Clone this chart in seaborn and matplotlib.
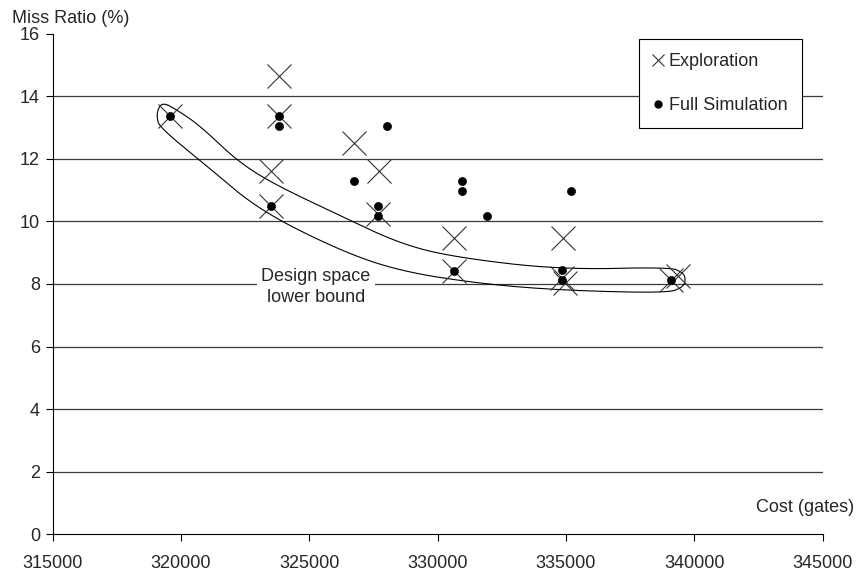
import numpy as np
import pandas as pd
import matplotlib.pyplot as plt
import seaborn as sns
from matplotlib.lines import Line2D

# exploration estimates (cost in gates, miss ratio in %)
explore_cost = [319575, 323832, 323832, 323497, 323497, 326752, 327727, 327687,
                330646, 330646, 334879, 334850, 334950, 339073, 339370]
explore_miss = [13.39, 14.64, 13.36, 11.61, 10.51, 12.50, 11.61, 10.25,
                9.47, 8.43, 9.47, 8.20, 8.02, 8.12, 8.27]

# full simulation results
sim_cost = [319575, 323832, 323832, 328014, 326741, 323497, 327687, 327687,
            330946, 330946, 335178, 331908, 330646, 334852, 334852, 339073]
sim_miss = [13.39, 13.39, 13.05, 13.05, 11.31, 10.51, 10.51, 10.19,
            11.31, 10.98, 10.98, 10.18, 8.43, 8.46, 8.12, 8.12]

# outline of the "lower bound" loop (upper edge left->right, lower edge back)
loop_cost = [319303, 319770, 320744, 322173, 323586, 326195, 328532, 330634,
             334762, 339045, 339551, 339668, 339551, 338918, 334762, 331647,
             328532, 326195, 323080, 321133, 319186, 319058, 319108]
loop_miss = [13.80, 13.61, 13.07, 11.95, 11.21, 10.19, 9.29, 8.86,
             8.46, 8.54, 8.37, 8.15, 7.89, 7.71, 7.80, 8.01,
             8.41, 9.07, 10.35, 11.69, 13.00, 13.33, 13.61]


def chaikin(xs, ys, n=3):
    # smooth a closed outline by corner cutting
    pts = np.column_stack([xs, ys]).astype(float)
    for _ in range(n):
        nxt = np.roll(pts, -1, axis=0)
        q = 0.75 * pts + 0.25 * nxt
        r = 0.25 * pts + 0.75 * nxt
        pts = np.empty((2 * len(q), 2))
        pts[0::2] = q
        pts[1::2] = r
    pts = np.vstack([pts, pts[:1]])
    return pts[:, 0], pts[:, 1]


explore = pd.DataFrame({"cost": explore_cost, "miss": explore_miss})
sim = pd.DataFrame({"cost": sim_cost, "miss": sim_miss})

sns.set_theme(style="white")
plt.rcParams["font.family"] = ["Liberation Sans", "DejaVu Sans"]

fig = plt.figure(figsize=(8.57, 5.72), dpi=100)
ax = fig.add_axes([0.0613, 0.0664, 0.8987, 0.8742])

for yv in range(2, 15, 2):
    ax.axhline(yv, color="#3a3a3a", lw=0.9, zorder=0)

lx, ly = chaikin(loop_cost, loop_miss)
ax.plot(lx, ly, color="black", lw=0.8, zorder=1)

sns.scatterplot(data=explore, x="cost", y="miss", marker="x", s=300,
                color="#333333", linewidth=0.8, ax=ax, zorder=2)
sns.scatterplot(data=sim, x="cost", y="miss", marker="o", s=34,
                color="black", edgecolor="black", ax=ax, zorder=3)

ax.set_xlim(315000, 345000)
ax.set_ylim(0, 16)
ax.set_xticks(np.arange(315000, 345001, 5000))
ax.set_yticks(np.arange(0, 17, 2))
ax.set_xlabel("")
ax.set_ylabel("")
ax.tick_params(axis="both", labelsize=13, length=5, width=0.8, color="black",
               direction="out", bottom=True, left=True, pad=10)
ax.tick_params(axis="y", pad=4)
for side in ["top", "right"]:
    ax.spines[side].set_visible(False)
for side in ["left", "bottom"]:
    ax.spines[side].set_color("black")
    ax.spines[side].set_linewidth(0.8)

fig.text(0.014, 0.968, "Miss Ratio (%)", fontsize=13, ha="left", va="center")
fig.text(0.997, 0.112, "Cost (gates)", fontsize=13, ha="right", va="center")
ax.text(325261, 7.91, "Design space\nlower bound", fontsize=13, ha="center",
        va="center", linespacing=1.3, zorder=4,
        bbox=dict(facecolor="white", edgecolor="none", pad=3))

handles = [Line2D([], [], marker="x", ls="none", color="#333333", markersize=9, mew=0.8),
           Line2D([], [], marker="o", ls="none", color="black", markersize=5)]
leg = ax.legend(handles, ["Exploration", "Full Simulation"], loc="upper left",
                bbox_to_anchor=(0.761, 0.99), fontsize=13, frameon=True,
                fancybox=False, edgecolor="black", framealpha=1,
                handlelength=0.6, handletextpad=0.3, labelspacing=1.5,
                borderpad=0.78, borderaxespad=0)
leg.get_frame().set_linewidth(0.8)

fig.savefig("out.png", dpi=100)
